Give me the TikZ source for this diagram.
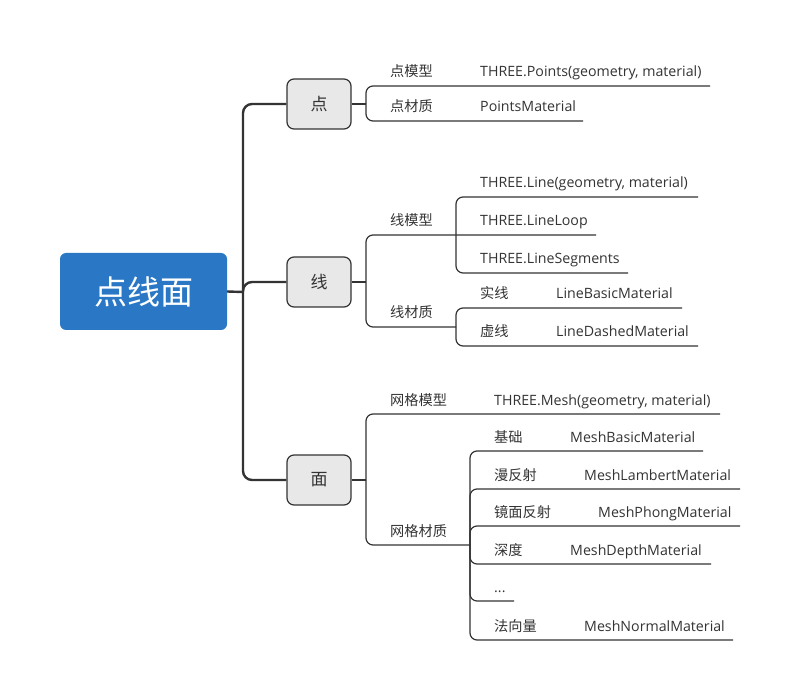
\documentclass[tikz,border=0pt]{standalone}
\usepackage{fontspec}
\setmainfont{Open Sans}
\newfontfamily\cjk{Noto Sans CJK SC}
\definecolor{rootblue}{HTML}{2A78C5}
\definecolor{boxgray}{HTML}{E8E8E8}
\definecolor{ink}{HTML}{333333}
\begin{document}
\begin{tikzpicture}[x=1pt,y=-1pt,
  rootbox/.style={fill=rootblue, rounded corners=6pt, minimum width=167pt, minimum height=77pt, inner sep=0pt, text=white, font=\cjk\fontsize{33}{33}\selectfont},
  topicbox/.style={fill=boxgray, draw=ink, line width=1.2pt, rounded corners=7pt, minimum width=64pt, minimum height=50pt, inner sep=0pt, text=ink, font=\cjk\fontsize{17}{17}\selectfont},
  lbl/.style={anchor=base west, inner sep=0pt, text=ink, font=\fontsize{14.2}{14.2}\selectfont},
  zh/.style={lbl, font=\cjk\fontsize{14.2}{14.2}\selectfont},
  trunk/.style={line width=2.4pt, draw=ink, rounded corners=9pt},
  branch/.style={line width=1.2pt, draw=ink, rounded corners=7pt}]
\useasboundingbox (0,0) rectangle (800,700);

% root and topics
\node[rootbox] (root) at (143.5,291.5) {点线面};
\node[topicbox] (p) at (319,104) {点};
\node[topicbox] (l) at (319,282) {线};
\node[topicbox] (m) at (319,480) {面};

\coordinate (hub) at (243,292);
\draw[trunk] (root.east) -- (hub);
\draw[trunk] (hub) |- (p.west);
\draw[trunk] (hub) |- (l.west);
\draw[trunk] (hub) |- (m.west);

% ---------- 点 ----------
\coordinate (pj) at (366,104);
\coordinate (pe1) at (710,86);
\coordinate (pe2) at (583,121);
\draw[branch] (p.east) -- (pj);
\draw[branch] (pj) |- (pe1);
\draw[branch] (pj) |- (pe2);
\node[zh] (pm) at (390,77) {点模型};
\node[lbl] (pmv) at (480,77) {THREE.Points(geometry, material)};
\node[zh] (pc) at (390,112) {点材质};
\node[lbl] (pcv) at (480,112) {PointsMaterial};

% ---------- 线 ----------
\coordinate (lj) at (366,282);
\coordinate (lmj) at (456,235);
\coordinate (lcj) at (456,327);
\coordinate (le1) at (698,197);
\coordinate (le2) at (596,235);
\coordinate (le3) at (628,273);
\coordinate (le4) at (682,308);
\coordinate (le5) at (698,346);
\draw[branch] (l.east) -- (lj);
\draw[branch] (lj) |- (le2);
\draw[branch] (lj) |- (lcj);
\draw[branch] (lmj) |- (le1);
\draw[branch] (lmj) |- (le3);
\draw[branch] (lcj) |- (le4);
\draw[branch] (lcj) |- (le5);
\node[zh] (lm) at (390,226) {线模型};
\node[lbl] (lm1) at (480,188) {THREE.Line(geometry, material)};
\node[lbl] (lm2) at (480,226) {THREE.LineLoop};
\node[lbl] (lm3) at (480,264) {THREE.LineSegments};
\node[zh] (lc) at (390,318) {线材质};
\node[zh] (lc1) at (480,299) {实线};
\node[lbl] (lc1v) at (556,299) {LineBasicMaterial};
\node[zh] (lc2) at (480,337) {虚线};
\node[lbl] (lc2v) at (556,337) {LineDashedMaterial};

% ---------- 面 ----------
\coordinate (mj) at (366,480);
\coordinate (mcj) at (470,545);
\coordinate (me0) at (720,414);
\coordinate (me1) at (703,451);
\coordinate (me2) at (740,489);
\coordinate (me3) at (740,526);
\coordinate (me4) at (711,564);
\coordinate (me5) at (514,601);
\coordinate (me6) at (733,640);
\draw[branch] (m.east) -- (mj);
\draw[branch] (mj) |- (me0);
\draw[branch] (mj) |- (mcj);
\draw[branch] (mcj) |- (me1);
\draw[branch] (mcj) |- (me2);
\draw[branch] (mcj) |- (me3);
\draw[branch] (mcj) |- (me4);
\draw[branch] (mcj) |- (me5);
\draw[branch] (mcj) |- (me6);
\node[zh] (mm) at (390,405) {网格模型};
\node[lbl] (mmv) at (494,405) {THREE.Mesh(geometry, material)};
\node[zh] (mc) at (390,536) {网格材质};
\node[zh] (mc1) at (494,442) {基础};
\node[lbl] (mc1v) at (570,442) {MeshBasicMaterial};
\node[zh] (mc2) at (494,480) {漫反射};
\node[lbl] (mc2v) at (584,480) {MeshLambertMaterial};
\node[zh] (mc3) at (494,517) {镜面反射};
\node[lbl] (mc3v) at (598,517) {MeshPhongMaterial};
\node[zh] (mc4) at (494,555) {深度};
\node[lbl] (mc4v) at (570,555) {MeshDepthMaterial};
\node[lbl] (mc5) at (494,592) {...};
\node[zh] (mc6) at (494,631) {法向量};
\node[lbl] (mc6v) at (584,631) {MeshNormalMaterial};
\end{tikzpicture}
\end{document}
